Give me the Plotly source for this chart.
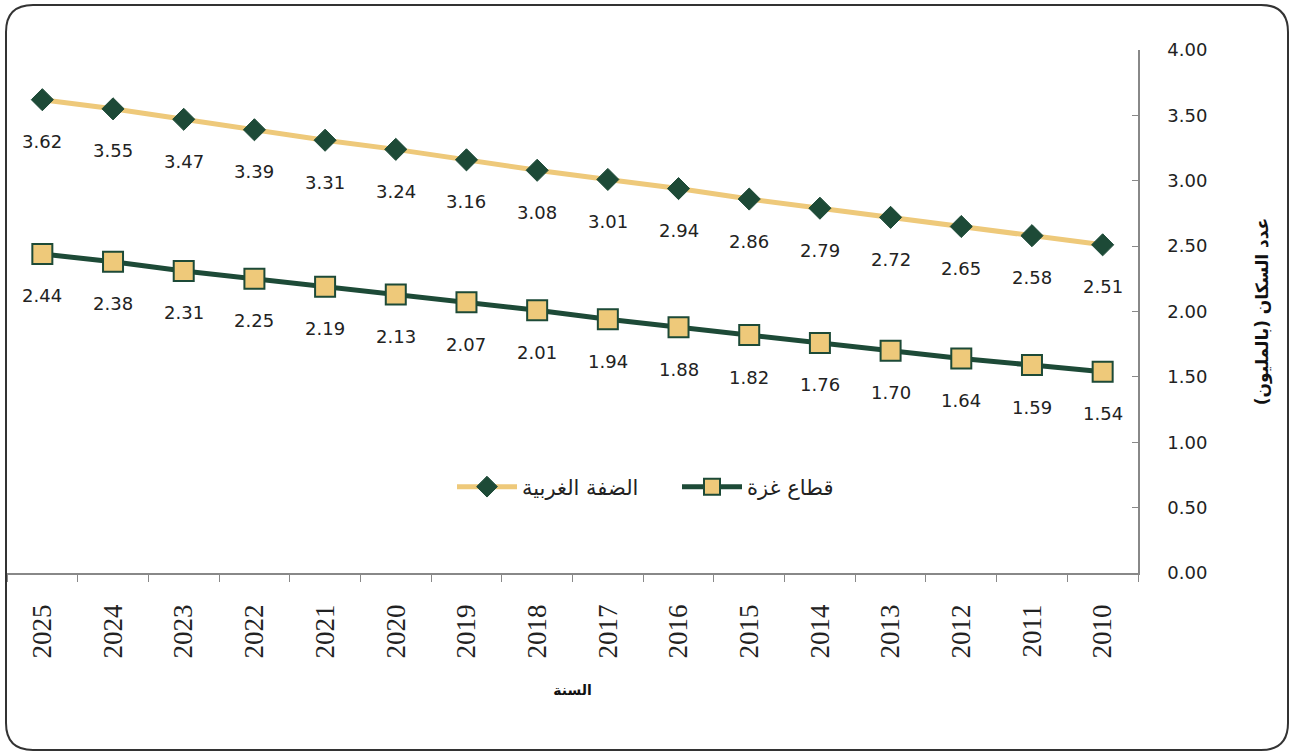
import plotly.graph_objects as go

# Years shown left to right
years = ["2025", "2024", "2023", "2022", "2021", "2020", "2019", "2018",
         "2017", "2016", "2015", "2014", "2013", "2012", "2011", "2010"]

# Population in millions
west_bank = [3.62, 3.55, 3.47, 3.39, 3.31, 3.24, 3.16, 3.08,
             3.01, 2.94, 2.86, 2.79, 2.72, 2.65, 2.58, 2.51]
gaza = [2.44, 2.38, 2.31, 2.25, 2.19, 2.13, 2.07, 2.01,
        1.94, 1.88, 1.82, 1.76, 1.70, 1.64, 1.59, 1.54]

y_ticks = [0, 0.5, 1.0, 1.5, 2.0, 2.5, 3.0, 3.5, 4.0]

DARK = "#1d4a37"
TAN = "#eec97a"
FONT = "DejaVu Sans"

W, H = 1290, 751
ML, MR, MT, MB = 7, 152, 50, 178

fig = go.Figure()

fig.add_trace(go.Scatter(
    x=years, y=west_bank, name="الضفة الغربية", mode="lines+markers",
    line=dict(color=TAN, width=5),
    marker=dict(symbol="diamond", size=17, color=DARK,
                line=dict(color=DARK, width=1)),
))
fig.add_trace(go.Scatter(
    x=years, y=gaza, name="قطاع غزة", mode="lines+markers",
    line=dict(color=DARK, width=5),
    marker=dict(symbol="square", size=20, color=TAN,
                line=dict(color=DARK, width=2)),
))

# value labels under each point (category index on the x axis)
for series in (west_bank, gaza):
    for i, v in enumerate(series):
        fig.add_annotation(x=i, y=v, text=f"{v:.2f}", showarrow=False,
                           yshift=-42, font=dict(family=FONT, size=18, color="#222"))

# rounded outer frame, expressed in paper units
pw, ph = W - ML - MR, H - MT - MB


def px(x):
    return (x - ML) / pw


def py(y):
    return (H - MB - y) / ph


x0, x1, y0, y1, r = 6, 1288, 5, 750, 27
path = (
    f"M {px(x0 + r)},{py(y0)} L {px(x1 - r)},{py(y0)} "
    f"Q {px(x1)},{py(y0)} {px(x1)},{py(y0 + r)} "
    f"L {px(x1)},{py(y1 - r)} Q {px(x1)},{py(y1)} {px(x1 - r)},{py(y1)} "
    f"L {px(x0 + r)},{py(y1)} Q {px(x0)},{py(y1)} {px(x0)},{py(y1 - r)} "
    f"L {px(x0)},{py(y0 + r)} Q {px(x0)},{py(y0)} {px(x0 + r)},{py(y0)} Z"
)
fig.add_shape(type="path", path=path, xref="paper", yref="paper",
              line=dict(color="#333", width=2), layer="below")

fig.update_layout(
    width=W, height=H,
    margin=dict(l=ML, r=MR, t=MT, b=MB),
    paper_bgcolor="white", plot_bgcolor="white",
    font=dict(family=FONT, color="#222"),
    showlegend=True,
    legend=dict(orientation="h", x=px(452), y=py(487), xanchor="left",
                yanchor="middle", font=dict(family=FONT, size=21, color="#222"),
                bgcolor="rgba(0,0,0,0)", itemwidth=60, entrywidth=150,
                entrywidthmode="pixels"),
    xaxis=dict(
        type="category", range=[-0.5, 15.5], showline=True, linecolor="#888",
        linewidth=1.5, ticks="outside", ticklen=7, tickcolor="#888",
        tickson="boundaries", tickangle=-90, showgrid=False, zeroline=False,
        tickfont=dict(family="Liberation Sans Narrow", size=27, color="#222"),
        ticklabelstandoff=19,
        title=dict(text="<b>السنة</b>", font=dict(family=FONT, size=14, color="#111"),
                   standoff=28),
    ),
    yaxis=dict(
        side="right", range=[0, 4], tickvals=y_ticks,
        tickformat=".2f", showline=True, linecolor="#888", linewidth=1.5,
        ticks="inside", ticklen=6, tickcolor="#888", showgrid=False,
        zeroline=False, ticklabelstandoff=24,
        tickfont=dict(family=FONT, size=18, color="#222"),
        title=dict(text="<b>عدد السكان (بالمليون)</b>",
                   font=dict(family=FONT, size=17, color="#111"), standoff=50),
    ),
)

fig.write_html("out.html")
